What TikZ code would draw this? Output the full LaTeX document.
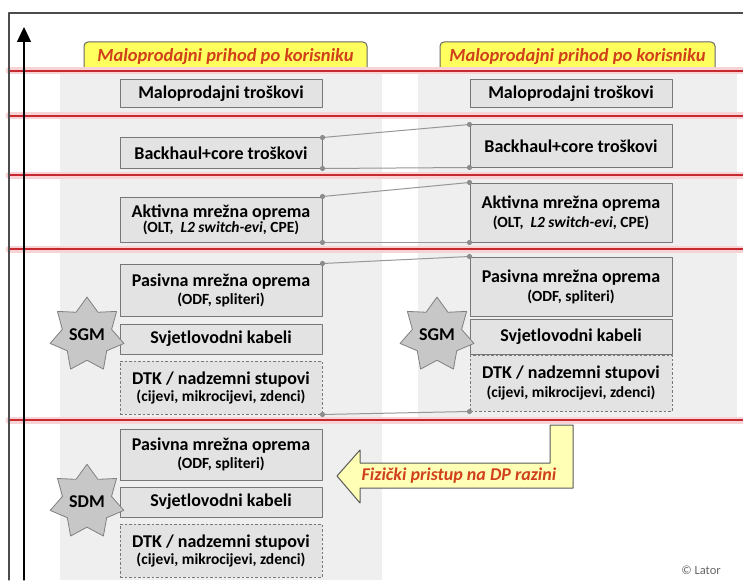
\documentclass[tikz,border=0pt]{standalone}
\usepackage{fontspec}
\setmainfont{Carlito}
\usetikzlibrary{shapes.geometric,arrows.meta}
\definecolor{linered}{HTML}{C62A2F}
\definecolor{halored}{HTML}{F8D3D5}
\definecolor{colgray}{HTML}{EFEFEF}
\definecolor{boxgray}{HTML}{E3E3E3}
\definecolor{boxline}{HTML}{777777}
\definecolor{lblyellow}{HTML}{FFFF5E}
\definecolor{arryellow}{HTML}{FFFFB6}
\definecolor{lbltext}{HTML}{D0401A}
\definecolor{conngray}{HTML}{979797}
\newcommand{\subtxt}[1]{{\fontsize{15.5}{16}\selectfont #1}}

\begin{document}
\begin{tikzpicture}[x=1pt, y=-1pt, line join=round, line cap=round]
	\tikzset{
		layer/.style={draw=boxline, fill=boxgray, line width=1pt, minimum width=202pt, inner sep=1pt, align=center, font=\bfseries\fontsize{18}{19}\selectfont},
		ductlayer/.style={layer, dash pattern=on 2.5pt off 2pt, line cap=butt},
		revenue/.style={draw=black!60, fill=lblyellow, line width=1pt, rounded corners=4pt, minimum height=29pt, inner sep=0pt, text=lbltext, font=\bfseries\itshape\fontsize{18.5}{19}\selectfont},
		market/.style={star, star points=7, star point ratio=1.5, draw=black!50, fill=black!22, line width=0.8pt, minimum size=66pt, inner sep=0pt, font=\bfseries\fontsize{18}{19}\selectfont},
		redline/.style={line width=2.5pt, draw=linered, preaction={draw=halored, line width=7pt}}
	}
	\useasboundingbox (0,0) rectangle (743,580);
	% columns
	\fill[colgray] (60,71) rectangle (382,580);
	\fill[colgray] (418,71) rectangle (737,420);
	% revenue labels
	\node[revenue, minimum width=283pt] (lrev) at (225.5,56.5) {Maloprodajni prihod po korisniku};
	\node[revenue, minimum width=275pt] (rrev) at (577.5,56.5) {Maloprodajni prihod po korisniku};
	\foreach \y in {71,116,175,249,420}
		\draw[redline] (9,\y)--(743,\y);
	% frame and axis
	\draw[black!70, line width=1.3pt] (9,580) |- (743,13);
	\coordinate (axbot) at (24,580);
	\coordinate (axtop) at (24,27);
	\draw[line width=1.3pt, -{Triangle[width=14pt,length=15pt]}] (axbot)--(axtop);
	% left column
	\node[layer, minimum height=28pt] (lmt) at (221,94) {Maloprodajni troškovi};
	\node[layer, minimum height=30pt] (lbc) at (221,153) {Backhaul+core troškovi};
	\node[layer, minimum height=45pt] (lak) at (221,219.5) {Aktivna mrežna oprema\\[-4pt]\subtxt{(OLT,\ \ \textit{L2 switch-evi}, CPE)}};
	\node[layer, minimum height=52pt] (lpa) at (221,290) {Pasivna mrežna oprema\\[-1pt]\subtxt{(ODF, spliteri)}};
	\node[layer, minimum height=30pt] (lsv) at (221,339) {Svjetlovodni kabeli};
	\node[ductlayer, minimum height=53pt] (ldtk) at (221,387.5) {DTK / nadzemni stupovi\\[-2pt]\subtxt{(cijevi, mikrocijevi, zdenci)}};
	% right column
	\node[layer, minimum height=28pt] (rmt) at (571,94) {Maloprodajni troškovi};
	\node[layer, minimum height=42pt] (rbc) at (571,146) {Backhaul+core troškovi};
	\node[layer, minimum height=59pt] (rak) at (571,212.5) {Aktivna mrežna oprema\\[0pt]\subtxt{(OLT,\ \ \textit{L2 switch-evi}, CPE)}};
	\node[layer, minimum height=59pt] (rpa) at (571,286.5) {Pasivna mrežna oprema\\[0pt]\subtxt{(ODF, spliteri)}};
	\node[layer, minimum height=35pt] (rsv) at (571,336.5) {Svjetlovodni kabeli};
	\node[ductlayer, minimum height=56pt] (rdtk) at (571,383) {DTK / nadzemni stupovi\\[0pt]\subtxt{(cijevi, mikrocijevi, zdenci)}};
	% lower left column
	\node[layer, minimum height=51pt] (dpa) at (221,454.5) {Pasivna mrežna oprema\\[-1pt]\subtxt{(ODF, spliteri)}};
	\node[layer, minimum height=30pt] (dsv) at (221,502) {Svjetlovodni kabeli};
	\node[ductlayer, minimum height=53pt] (ddtk) at (221,550.5) {DTK / nadzemni stupovi\\[-2pt]\subtxt{(cijevi, mikrocijevi, zdenci)}};
	% links between columns
	\foreach \a/\b in {lbc.north east/rbc.north west, lbc.south east/rbc.south west, lak.north east/rak.north west, lak.south east/rak.south west, lpa.north east/rpa.north west, ldtk.south east/rdtk.south west}{
		\draw[conngray, line width=1pt] (\a)--(\b);
		\fill[black!45] (\a)circle(2.6pt);
		\fill[black!45] (\b)circle(2.6pt);
	}
	% markets
	\node[market] (lsgm) at (87,335) {SGM};
	\node[market] (rsgm) at (437,335) {SGM};
	\node[market] (sdm) at (87,502) {SDM};
	% access arrow
	\draw[draw=black!65, fill=arryellow, line width=1pt] (573,425)--(573,488)--(360,488)--(360,503)--(337,476)--(360,450)--(360,463)--(550,463)--(550,425)--cycle;
	\node[text=lbltext, font=\bfseries\itshape\fontsize{18}{19}\selectfont, inner sep=0pt] (dp) at (459,476) {Fizički pristup na DP razini};
	\node[text=black!60, font=\fontsize{12.5}{14}\selectfont, inner sep=0pt] (lator) at (701,570) {© Lator};
\end{tikzpicture}
\end{document}
